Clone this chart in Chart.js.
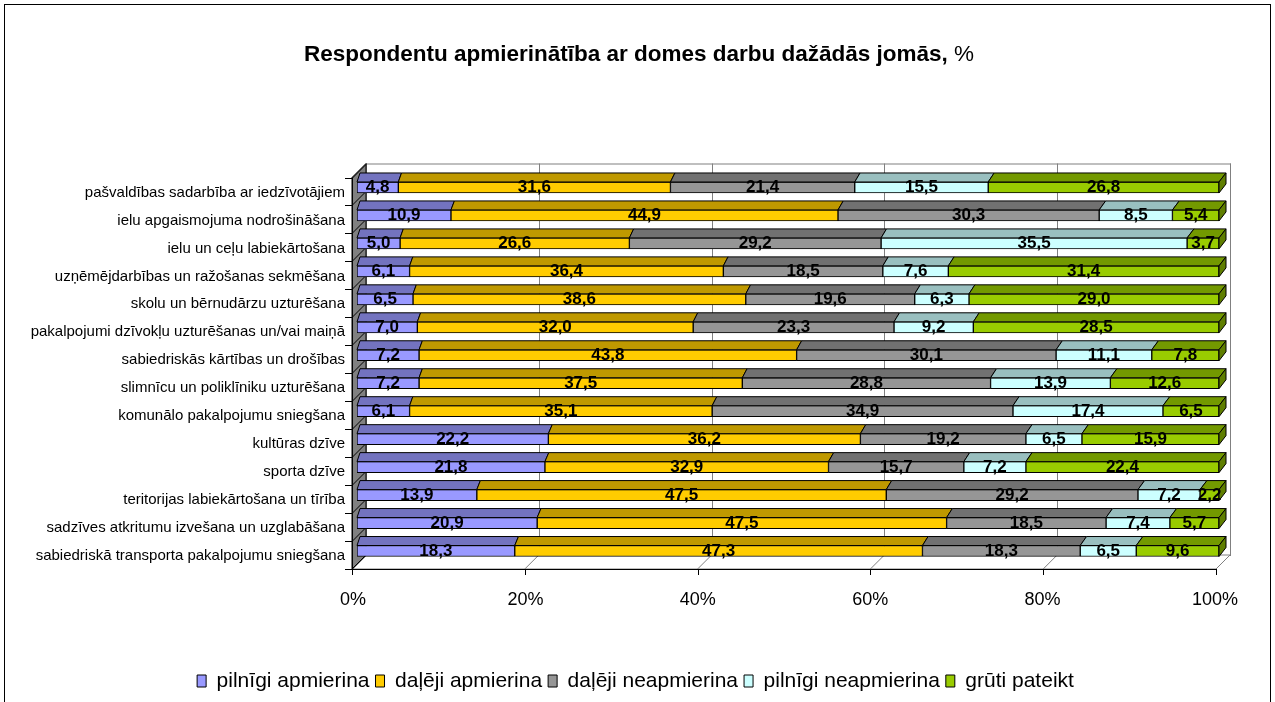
<!DOCTYPE html>
<html>
<head>
<meta charset="utf-8">
<script src="https://cdn.jsdelivr.net/npm/chart.js@4.4.1/dist/chart.umd.min.js"></script>
<style>
html, body { margin: 0; padding: 0; background: #fff; }
</style>
</head>
<body>
<canvas id="domesChart" width="1275" height="702"></canvas>
<script>
const categories = [
    'pašvaldības sadarbība ar iedzīvotājiem',
    'ielu apgaismojuma nodrošināšana',
    'ielu un ceļu labiekārtošana',
    'uzņēmējdarbības un ražošanas sekmēšana',
    'skolu un bērnudārzu uzturēšana',
    'pakalpojumi dzīvokļu uzturēšanas un/vai maiņā',
    'sabiedriskās kārtības un drošības',
    'slimnīcu un poliklīniku uzturēšana',
    'komunālo pakalpojumu sniegšana',
    'kultūras dzīve',
    'sporta dzīve',
    'teritorijas labiekārtošana un tīrība',
    'sadzīves atkritumu izvešana un uzglabāšana',
    'sabiedriskā transporta pakalpojumu sniegšana'
];

const fullySatisfied    = [4.8, 10.9, 5.0, 6.1, 6.5, 7.0, 7.2, 7.2, 6.1, 22.2, 21.8, 13.9, 20.9, 18.3];
const partlySatisfied   = [31.6, 44.9, 26.6, 36.4, 38.6, 32.0, 43.8, 37.5, 35.1, 36.2, 32.9, 47.5, 47.5, 47.3];
const partlyUnsatisfied = [21.4, 30.3, 29.2, 18.5, 19.6, 23.3, 30.1, 28.8, 34.9, 19.2, 15.7, 29.2, 18.5, 18.3];
const fullyUnsatisfied  = [15.5, 8.5, 35.5, 7.6, 6.3, 9.2, 11.1, 13.9, 17.4, 6.5, 7.2, 7.2, 7.4, 6.5];
const hardToSay         = [26.8, 5.4, 3.7, 31.4, 29.0, 28.5, 7.8, 12.6, 6.5, 15.9, 22.4, 2.2, 5.7, 9.6];

const seriesNames = ['pilnīgi apmierina', 'daļēji apmierina', 'daļēji neapmierina', 'pilnīgi neapmierina', 'grūti pateikt'];
const seriesColors = ['#9999ff', '#ffcc00', '#969696', '#ccffff', '#99cc00'];
const tickValues = [0, 20, 40, 60, 80, 100];

const FONT = "'Liberation Sans', Arial, sans-serif";

const rawSeries = [fullySatisfied, partlySatisfied, partlyUnsatisfied, fullyUnsatisfied, hardToSay];
// 100% stacked: scale every row to its total
const rowTotals = categories.map((c, i) => rawSeries.reduce((s, arr) => s + arr[i], 0));

function shade(hex, f) {
    const n = parseInt(hex.slice(1), 16);
    const r = Math.round(((n >> 16) & 255) * f);
    const g = Math.round(((n >> 8) & 255) * f);
    const b = Math.round((n & 255) * f);
    return 'rgb(' + r + ',' + g + ',' + b + ')';
}

const WALL = 14;      // depth of the walls
const BAR_DEPTH = 9;  // depth of the bars

// plane coordinates, taken from the chart scales
function plane(chart) {
    const x = chart.scales.x, y = chart.scales.y;
    const x0 = x.getPixelForValue(0);
    const k = 864 / (x.getPixelForValue(100) - x0);
    const step = y.getPixelForValue(1) - y.getPixelForValue(0);
    return {
        px: v => x0 - 5 + (x.getPixelForValue(v) - x0) * k,
        top: y.getPixelForValue(0) - step / 2 + 4,
        bottom: y.getPixelForValue(categories.length - 1) + step / 2 + 4,
        step: step
    };
}

const box3d = {
    id: 'box3d',
    afterLayout(chart) {
        // legend is centred on the whole frame, not on the padded box
        if (chart.legend) {
            chart.legend.left += 26;
            chart.legend.right += 26;
        }
    },
    beforeDraw(chart) {
        const ctx = chart.ctx;
        ctx.save();
        ctx.strokeStyle = '#000';
        ctx.lineWidth = 1;
        ctx.strokeRect(4.5, 4.5, 1266, 720);

        // title: bold text with a normal "%"
        const main = 'Respondentu apmierinātība ar domes darbu dažādās jomās,';
        const tail = ' %';
        ctx.textBaseline = 'middle';
        ctx.fillStyle = '#000';
        ctx.font = 'bold 22.5px ' + FONT;
        const w1 = ctx.measureText(main).width;
        ctx.font = '22.5px ' + FONT;
        const w2 = ctx.measureText(tail).width;
        const sx = 639 - (w1 + w2) / 2;
        ctx.textAlign = 'left';
        ctx.font = 'bold 22.5px ' + FONT;
        ctx.fillText(main, sx, 55);
        ctx.font = '22.5px ' + FONT;
        ctx.fillText(tail, sx + w1, 55);
        ctx.restore();
    },
    beforeDatasetsDraw(chart) {
        const ctx = chart.ctx;
        const p = plane(chart);
        const L = p.px(0), R = p.px(100), T = p.top, B = p.bottom;
        ctx.save();
        ctx.lineWidth = 1;

        // back wall
        ctx.fillStyle = '#fff';
        ctx.strokeStyle = '#808080';
        ctx.fillRect(L + WALL, T - WALL, R - L, B - T);
        ctx.strokeRect(L + WALL + 0.5, T - WALL + 0.5, R - L, B - T);
        ctx.beginPath();
        tickValues.forEach(v => {
            const gx = Math.round(p.px(v) + WALL) + 0.5;
            ctx.moveTo(gx, T - WALL);
            ctx.lineTo(gx, B - WALL);
        });
        ctx.stroke();

        // floor
        ctx.beginPath();
        ctx.moveTo(L, B);
        ctx.lineTo(R, B);
        ctx.lineTo(R + WALL, B - WALL);
        ctx.lineTo(L + WALL, B - WALL);
        ctx.closePath();
        ctx.fill();
        ctx.stroke();
        ctx.beginPath();
        tickValues.forEach(v => {
            ctx.moveTo(p.px(v), B);
            ctx.lineTo(p.px(v) + WALL, B - WALL);
        });
        ctx.stroke();

        // left wall
        ctx.fillStyle = '#808080';
        ctx.strokeStyle = '#000';
        ctx.beginPath();
        ctx.moveTo(L, T);
        ctx.lineTo(L + WALL, T - WALL);
        ctx.lineTo(L + WALL, B - WALL);
        ctx.lineTo(L, B);
        ctx.closePath();
        ctx.fill();
        ctx.stroke();

        // category ticks
        ctx.beginPath();
        for (let k = 0; k <= categories.length; k++) {
            const ty = Math.round(T + k * p.step) + 0.5;
            ctx.moveTo(L - 7, ty);
            ctx.lineTo(L, ty);
            ctx.lineTo(L + WALL, ty - WALL);
        }
        // axis lines and value ticks
        ctx.moveTo(Math.round(L) + 0.5, T);
        ctx.lineTo(Math.round(L) + 0.5, B);
        ctx.moveTo(L, Math.round(B) + 0.5);
        ctx.lineTo(R, Math.round(B) + 0.5);
        tickValues.forEach(v => {
            const tx = Math.round(p.px(v)) + 0.5;
            ctx.moveTo(tx, B);
            ctx.lineTo(tx, B + 6);
        });
        ctx.stroke();
        ctx.restore();
    },
    afterDatasetsDraw(chart) {
        const ctx = chart.ctx;
        const x = chart.scales.x;
        const L = x.getPixelForValue(0), R = x.getPixelForValue(100);
        const dx = px => 3 + 4 * (px - L) / (R - L);
        ctx.save();
        ctx.lineWidth = 1;
        ctx.strokeStyle = '#000';
        const last = chart.data.datasets.length - 1;
        chart.data.datasets.forEach((ds, di) => {
            const meta = chart.getDatasetMeta(di);
            meta.data.forEach(bar => {
                const b = bar.getProps(['x', 'y', 'base', 'height'], true);
                const x1 = Math.min(b.x, b.base), x2 = Math.max(b.x, b.base);
                const yt = b.y - b.height / 2, yb = b.y + b.height / 2;
                ctx.fillStyle = shade(seriesColors[di], 0.75);
                ctx.beginPath();
                ctx.moveTo(x1, yt);
                ctx.lineTo(x1 + dx(x1), yt - BAR_DEPTH);
                ctx.lineTo(x2 + dx(x2), yt - BAR_DEPTH);
                ctx.lineTo(x2, yt);
                ctx.closePath();
                ctx.fill();
                ctx.stroke();
                if (di === last) {
                    ctx.fillStyle = shade(seriesColors[di], 0.62);
                    ctx.beginPath();
                    ctx.moveTo(x2, yt);
                    ctx.lineTo(x2 + dx(x2), yt - BAR_DEPTH);
                    ctx.lineTo(x2 + dx(x2), yb - BAR_DEPTH);
                    ctx.lineTo(x2, yb);
                    ctx.closePath();
                    ctx.fill();
                    ctx.stroke();
                }
            });
        });

        // value labels
        ctx.fillStyle = '#000';
        ctx.font = 'bold 17px ' + FONT;
        ctx.textAlign = 'center';
        ctx.textBaseline = 'middle';
        chart.data.datasets.forEach((ds, di) => {
            const meta = chart.getDatasetMeta(di);
            meta.data.forEach((bar, i) => {
                const b = bar.getProps(['x', 'y', 'base'], true);
                const text = rawSeries[di][i].toFixed(1).replace('.', ',');
                ctx.fillText(text, (b.x + b.base) / 2, b.y);
            });
        });
        ctx.restore();
    }
};

const datasets = seriesNames.map((name, di) => ({
    label: name,
    data: rawSeries[di].map((v, i) => v / rowTotals[i] * 100),
    backgroundColor: seriesColors[di],
    borderColor: '#000',
    borderWidth: 1,
    borderSkipped: false,
    barThickness: 11
}));

const ctx = document.getElementById('domesChart').getContext('2d');
const domesChart = new Chart(ctx, {
    type: 'bar',
    data: {
        labels: categories,
        datasets: datasets
    },
    options: {
        indexAxis: 'y',
        responsive: false,
        animation: false,
        devicePixelRatio: 1,
        layout: {
            padding: { left: 0, right: 56, top: 173.5, bottom: 0.5 }
        },
        plugins: {
            title: { display: false },
            tooltip: { enabled: false },
            legend: {
                display: true,
                position: 'bottom',
                labels: {
                    color: '#000',
                    font: { family: FONT, size: 21 },
                    boxWidth: 9,
                    boxHeight: 12,
                    padding: 6
                }
            }
        },
        scales: {
            x: {
                stacked: true,
                min: 0,
                max: 100,
                grid: { display: false, drawTicks: false },
                border: { display: false },
                afterFit: scale => { scale.height = 99.5; },
                afterBuildTicks: scale => { scale.ticks = tickValues.map(v => ({ value: v })); },
                ticks: {
                    color: '#000',
                    font: { family: FONT, size: 18 },
                    padding: 24,
                    labelOffset: -4,
                    maxRotation: 0,
                    callback: v => v + '%'
                }
            },
            y: {
                stacked: true,
                grid: { display: false, drawTicks: false },
                border: { display: false },
                afterFit: scale => { scale.width = 357; },
                ticks: {
                    color: '#000',
                    font: { family: FONT, size: 15 },
                    padding: 12,
                    labelOffset: 5,
                    autoSkip: false
                }
            }
        }
    },
    plugins: [box3d]
});
</script>
</body>
</html>
